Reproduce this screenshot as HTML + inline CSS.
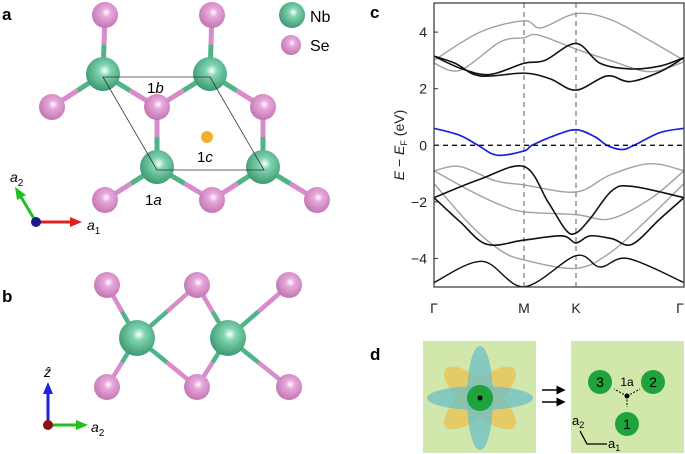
<!DOCTYPE html>
<html><head><meta charset="utf-8"><style>
body{margin:0;background:#fff;}
svg{display:block;font-family:"Liberation Sans",sans-serif;}
</style></head><body>
<svg id="s" width="685" height="454" viewBox="0 0 685 454">
<defs>
<radialGradient id="gNb" cx="0.55" cy="0.4" r="0.7"><stop offset="0" stop-color="#ffffff"/><stop offset="0.25" stop-color="#7fd5b0"/><stop offset="1" stop-color="#2e8a64"/></radialGradient>
<radialGradient id="gSe" cx="0.55" cy="0.4" r="0.7"><stop offset="0" stop-color="#ffffff"/><stop offset="0.25" stop-color="#e8a8dc"/><stop offset="1" stop-color="#b86aa8"/></radialGradient>
<marker id="ah" markerWidth="6" markerHeight="6" refX="5" refY="3" orient="auto"><path d="M0,0L6,3L0,6z" fill="#000"/></marker>
</defs>
<g id="a"></g>
<text x="2" y="20" font-size="17" font-weight="bold">a</text>
<text x="2" y="302" font-size="17" font-weight="bold">b</text>
<text x="370" y="18" font-size="17" font-weight="bold">c</text>
<text x="370" y="360" font-size="17" font-weight="bold">d</text>
<g id="plot"></g>
<rect x="423" y="341" width="113" height="112" fill="#d2e7ab"/>
<g transform="translate(480,398)">
<ellipse rx="16" ry="45" fill="#e6c860" opacity="0.9" transform="rotate(50)"/>
<ellipse rx="16" ry="45" fill="#e6c860" opacity="0.9" transform="rotate(-50)"/>
<ellipse rx="13" ry="52" fill="#6bbfc6" opacity="0.75"/>
<ellipse rx="53" ry="12" fill="#6bbfc6" opacity="0.75"/>
</g>
<circle cx="480" cy="398" r="13" fill="#1fa33c"/><circle cx="480" cy="398" r="2.5" fill="#000"/>
<line x1="542" y1="390" x2="564" y2="390" stroke="#000" stroke-width="1.5" marker-end="url(#ah)"/>
<line x1="542" y1="402" x2="564" y2="402" stroke="#000" stroke-width="1.5" marker-end="url(#ah)"/>
<rect x="571" y="341" width="113" height="112" fill="#d2e7ab"/>
<circle cx="600" cy="382" r="12" fill="#1fa33c"/><circle cx="653" cy="382" r="12" fill="#1fa33c"/><circle cx="627" cy="424" r="12" fill="#1fa33c"/>
<g font-size="14" text-anchor="middle"><text x="600" y="387">3</text><text x="653" y="387">2</text><text x="627" y="429">1</text><text x="627" y="386" font-size="12">1a</text></g>
<circle cx="627" cy="396" r="2.5" fill="#000"/>
<g stroke="#000" stroke-width="1" stroke-dasharray="2,1.5"><line x1="627" y1="396" x2="614" y2="389"/><line x1="627" y1="396" x2="640" y2="389"/><line x1="627" y1="396" x2="627" y2="407"/></g>
<path d="M580,431L587,444L607,444" fill="none" stroke="#000" stroke-width="1.3"/>
<text x="572" y="425" font-size="13">a<tspan font-size="9" dy="3">2</tspan></text>
<text x="608" y="448" font-size="13">a<tspan font-size="9" dy="3">1</tspan></text>
</svg>
<script>
const NS="http://www.w3.org/2000/svg";
function el(p,t,a,txt){const e=document.createElementNS(NS,t);for(const k in a)e.setAttribute(k,a[k]);if(txt!=null)e.textContent=txt;p.appendChild(e);return e;}
const A=document.getElementById('a');
function bond(p,a,b,w){const mx=(a[0]+b[0])/2,my=(a[1]+b[1])/2;
el(p,'line',{x1:a[0],y1:a[1],x2:mx,y2:my,stroke:'#4fb489','stroke-width':w});
el(p,'line',{x1:mx,y1:my,x2:b[0],y2:b[1],stroke:'#d88ccb','stroke-width':w});}
const nb=[[103,74],[210,74],[157,167],[263,167]];
const se=[[105,15],[212,15],[52,107],[157,107],[263,107],[105,200],[212,200],[317,200]];
const bonds=[[0,0],[0,2],[0,3],[1,1],[1,3],[1,4],[2,3],[2,5],[2,6],[3,4],[3,6],[3,7]];
bonds.forEach(b=>bond(A,nb[b[0]],se[b[1]],5));
se.forEach(s=>el(A,'circle',{cx:s[0],cy:s[1],r:13,fill:'url(#gSe)'}));
nb.forEach(s=>el(A,'circle',{cx:s[0],cy:s[1],r:17,fill:'url(#gNb)'}));
el(A,'path',{d:'M103,77L210,77L264,170L157,170Z',fill:'none',stroke:'#333','stroke-width':0.8});
el(A,'circle',{cx:207,cy:137,r:6,fill:'#f2b030'});
function lab(x,y,c){const t=el(A,'text',{x:x,y:y,'font-size':15},'1');el(t,'tspan',{'font-style':'italic'},c);}
lab(147,93,'b');lab(197,162,'c');lab(145,205,'a');
el(A,'circle',{cx:292,cy:15,r:13,fill:'url(#gNb)'});el(A,'text',{x:310,y:22,'font-size':16},'Nb');
el(A,'circle',{cx:291,cy:45,r:10,fill:'url(#gSe)'});el(A,'text',{x:310,y:51,'font-size':16},'Se');
el(A,'line',{x1:36,y1:222,x2:72,y2:222,stroke:'#e02020','stroke-width':3});
el(A,'path',{d:'M70,217L82,222L70,227Z',fill:'#e02020'});
el(A,'line',{x1:36,y1:222,x2:21,y2:197,stroke:'#20c020','stroke-width':3});
el(A,'path',{d:'M15,187L26,195L17,200Z',fill:'#20c020'});
el(A,'circle',{cx:36,cy:222,r:5,fill:'#1a1a90'});
let t=el(A,'text',{x:10,y:182,'font-size':14,'font-style':'italic'},'a');el(t,'tspan',{'font-size':10,dy:4,'font-style':'normal'},'2');
t=el(A,'text',{x:87,y:230,'font-size':14,'font-style':'italic'},'a');el(t,'tspan',{'font-size':10,dy:4,'font-style':'normal'},'1');
const nbb=[[137,338],[228,338]];
const seb=[[107,285],[197,285],[289,285],[107,387],[197,387],[289,387]];
[[0,0],[0,1],[0,3],[0,4],[1,1],[1,2],[1,4],[1,5]].forEach(b=>bond(A,nbb[b[0]],seb[b[1]],4.5));
seb.forEach(s=>el(A,'circle',{cx:s[0],cy:s[1],r:13,fill:'url(#gSe)'}));
nbb.forEach(s=>el(A,'circle',{cx:s[0],cy:s[1],r:18,fill:'url(#gNb)'}));
el(A,'line',{x1:48,y1:425,x2:48,y2:392,stroke:'#2020e0','stroke-width':3});
el(A,'path',{d:'M43,394L48,382L53,394Z',fill:'#2020e0'});
el(A,'line',{x1:48,y1:425,x2:78,y2:425,stroke:'#20c020','stroke-width':3});
el(A,'path',{d:'M76,420L88,425L76,430Z',fill:'#20c020'});
el(A,'circle',{cx:48,cy:425,r:5,fill:'#901010'});
el(A,'text',{x:44,y:377,'font-size':14,'font-style':'italic'},'ẑ');
t=el(A,'text',{x:91,y:432,'font-size':14,'font-style':'italic'},'a');el(t,'tspan',{'font-size':10,dy:4,'font-style':'normal'},'2');
const P=document.getElementById('plot');
const X0=434,XM=524,XK=576,X1=684;const Y=e=>145.3-28.3*e;
function curve(pts,col,w){const p=pts.map(q=>[q[0],Y(q[1])]);let d='M'+p[0];
for(let i=0;i<p.length-1;i++){const p0=p[i-1]||p[i],p1=p[i],p2=p[i+1],p3=p[i+2]||p2;
d+='C'+(p1[0]+(p2[0]-p0[0])/6)+','+(p1[1]+(p2[1]-p0[1])/6)+' '+(p2[0]-(p3[0]-p1[0])/6)+','+(p2[1]-(p3[1]-p1[1])/6)+' '+p2[0]+','+p2[1];}
el(P,'path',{d:d,fill:'none',stroke:col,'stroke-width':w});}
el(P,'line',{x1:XM,y1:3,x2:XM,y2:287,stroke:'#777','stroke-dasharray':'5,4','stroke-width':1.2});
el(P,'line',{x1:XK,y1:3,x2:XK,y2:287,stroke:'#777','stroke-dasharray':'5,4','stroke-width':1.2});
const G='#a0a0a0',B='#111';
curve([[434,3.0],[480,4.0],[524,4.4],[541,4.15],[576,4.65],[610,4.45],[650,3.7],[684,3.0]],G,1.4);
curve([[434,2.9],[460,2.65],[500,3.65],[524,3.8],[538,3.9],[576,3.4],[610,3.0],[650,2.6],[684,2.95]],G,1.4);
curve([[434,-0.9],[460,-0.75],[495,-1.25],[524,-1.4],[576,-1.65],[610,-1.05],[650,-0.65],[684,-0.9]],G,1.4);
curve([[434,-0.9],[470,-1.6],[500,-2.1],[524,-2.35],[576,-2.45],[610,-2.6],[650,-1.9],[684,-0.9]],G,1.4);
curve([[434,-1.35],[470,-2.8],[500,-3.7],[524,-4.05],[576,-4.35],[610,-3.8],[645,-2.7],[684,-1.35]],G,1.4);
curve([[434,3.15],[455,2.9],[480,2.45],[524,2.55],[550,2.35],[576,1.95],[607,2.45],[630,2.25],[660,2.6],[684,3.1]],B,1.6);
curve([[434,3.15],[462,2.7],[490,2.5],[524,2.9],[545,3.0],[576,3.6],[600,2.9],[630,2.7],[660,2.8],[684,3.1]],B,1.6);
curve([[434,-1.85],[480,-1.2],[524,-0.75],[548,-2.0],[566,-3.0],[576,-3.1],[590,-2.6],[612,-1.6],[632,-1.45],[684,-1.85]],B,1.6);
curve([[434,-1.85],[460,-2.7],[487,-3.5],[524,-3.35],[562,-3.2],[576,-3.45],[590,-3.2],[612,-3.3],[632,-3.5],[660,-2.6],[684,-1.85]],B,1.6);
curve([[434,-4.85],[482,-4.1],[524,-5.0],[576,-3.9],[600,-4.3],[628,-4.0],[684,-4.85]],B,1.4);
curve([[434,0.6],[460,0.35],[478,0],[497,-0.35],[524,-0.2],[532,0],[555,0.35],[576,0.55],[595,0.3],[607,0],[622,-0.15],[634,0],[660,0.45],[684,0.6]],'#1a22e0',1.7);
el(P,'line',{x1:434,y1:Y(0),x2:684,y2:Y(0),stroke:'#111','stroke-dasharray':'5,4','stroke-width':1.3});
el(P,'rect',{x:434,y:3,width:250,height:284,fill:'none',stroke:'#333','stroke-width':1.2});
[[4,'4'],[2,'2'],[0,'0'],[-2,'−2'],[-4,'−4']].forEach(v=>{el(P,'line',{x1:434,y1:Y(v[0]),x2:438,y2:Y(v[0]),stroke:'#333'});
el(P,'text',{x:427,y:Y(v[0])+5,'font-size':14,'text-anchor':'end',fill:'#222'},v[1]);});
[[X0,'Γ'],[XM,'M'],[XK,'K'],[X1-4,'Γ']].forEach(v=>el(P,'text',{x:v[0],y:313,'font-size':14,'text-anchor':'middle',fill:'#222'},v[1]));
const yl=el(P,'text',{transform:'translate(404,145) rotate(-90)','font-size':14,'text-anchor':'middle',fill:'#222'});
el(yl,'tspan',{'font-style':'italic'},'E');el(yl,'tspan',{},' − ');el(yl,'tspan',{'font-style':'italic'},'E');
el(yl,'tspan',{'font-size':9,dy:3},'F');el(yl,'tspan',{dy:-3},' (eV)');
</script>
</body></html>
